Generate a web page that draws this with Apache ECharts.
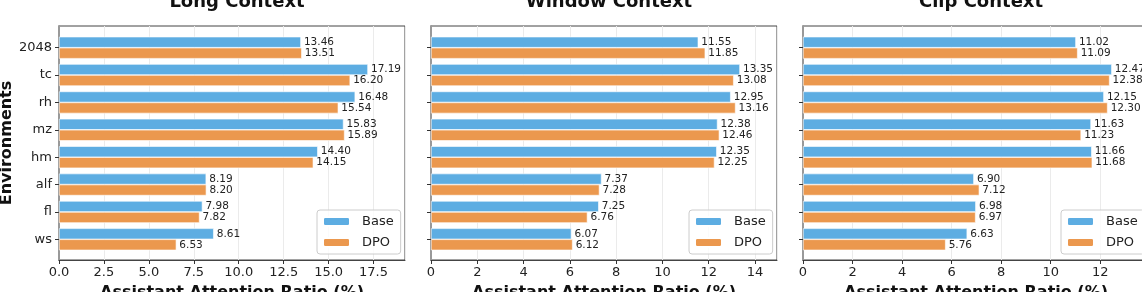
<!DOCTYPE html>
<html><head><meta charset="utf-8">
<script src="https://cdn.jsdelivr.net/npm/echarts@6/dist/echarts.min.js"></script>
<style>html,body{margin:0;padding:0;background:#fff;}#c{width:1142px;height:292px;}</style>
</head><body><div id="c"></div>
<script>
const categories = ['2048', 'tc', 'rh', 'mz', 'hm', 'alf', 'fl', 'ws'];
const panelTitles = ['Long Context', 'Window Context', 'Clip Context'];
const seriesNames = ['Base', 'DPO'];
const longBase   = [13.46, 17.19, 16.48, 15.83, 14.40, 8.19, 7.98, 8.61];
const longDpo    = [13.51, 16.20, 15.54, 15.89, 14.15, 8.20, 7.82, 6.53];
const windowBase = [11.55, 13.35, 12.95, 12.38, 12.35, 7.37, 7.25, 6.07];
const windowDpo  = [11.85, 13.08, 13.16, 12.46, 12.25, 7.28, 6.76, 6.12];
const clipBase   = [11.02, 12.47, 12.15, 11.63, 11.66, 6.90, 6.98, 6.63];
const clipDpo    = [11.09, 12.38, 12.30, 11.23, 11.68, 7.12, 6.97, 5.76];
const xMax = [19.25, 14.95, 13.97];
const xInterval = [2.5, 2, 2];
const xTickDecimals = [1, 0, 0];
const xName = 'Assistant Attention Ratio (%)';
const yName = 'Environments';

const panelData = [[longBase, longDpo], [windowBase, windowDpo], [clipBase, clipDpo]];
const colors = ['#5DADE2', '#EB984E'];
const FONT = 'DejaVu Sans';
const panelLeft = [59, 431, 803];
const panelW = 346;

const grid = [], xAxis = [], yAxis = [], series = [], title = [], legend = [];
panelData.forEach((pair, i) => {
  const L = panelLeft[i];
  grid.push({left: L, top: 26, width: panelW, height: 234, show: true, borderColor: '#444', borderWidth: 1,
    backgroundColor: '#fff', containLabel: false, outerBoundsMode: 'none'});
  grid.push({left: L, top: 34, width: panelW, height: 219, containLabel: false, outerBoundsMode: 'none'});
  xAxis.push({
    gridIndex: 2 * i, type: 'value', min: 0, max: xMax[i], interval: xInterval[i],
    axisLine: {show: true, lineStyle: {color: '#444', width: 1}},
    axisTick: {show: true, length: 4, lineStyle: {color: '#333'}},
    axisLabel: {show: true, showMaxLabel: false, margin: 6, fontFamily: FONT, fontSize: 13, color: '#222',
      formatter: v => v.toFixed(xTickDecimals[i])},
    splitLine: {show: true, lineStyle: {color: '#ebebeb', width: 1}},
    name: xName, nameLocation: 'middle', nameGap: 25,
    nameTextStyle: {fontFamily: FONT, fontSize: 16, fontWeight: 'bold', color: '#111', verticalAlign: 'top'}
  });
  xAxis.push({gridIndex: 2 * i + 1, type: 'value', min: 0, max: xMax[i], show: false});
  yAxis.push({
    gridIndex: 2 * i, type: 'value', min: 0, max: 1,
    axisLine: {show: true, lineStyle: {color: '#999', width: 2}},
    axisTick: {show: false}, axisLabel: {show: false}, splitLine: {show: false},
    name: i === 0 ? yName : '', nameLocation: 'middle', nameGap: 44,
    nameTextStyle: {fontFamily: FONT, fontSize: 16, fontWeight: 'bold', color: '#111'}
  });
  yAxis.push({
    gridIndex: 2 * i + 1, type: 'category', data: categories, inverse: true,
    axisLine: {show: false},
    axisTick: {show: true, alignWithLabel: true, length: 4, lineStyle: {color: '#333'}},
    axisLabel: {show: i === 0, margin: 7, fontFamily: FONT, fontSize: 13, color: '#222'},
    splitLine: {show: false}
  });
  pair.forEach((vals, k) => {
    series.push({
      type: 'bar', name: seriesNames[k], xAxisIndex: 2 * i + 1, yAxisIndex: 2 * i + 1,
      data: vals, barWidth: 11, barGap: '0%',
      itemStyle: {color: colors[k], borderColor: '#fff', borderWidth: 0.6},
      label: {show: true, position: 'right', distance: 3, fontFamily: FONT, fontSize: 10.5, color: '#222',
        formatter: p => p.value.toFixed(2)},
      animation: false
    });
  });
  title.push({text: panelTitles[i], left: L + panelW / 2, textAlign: 'center', top: -12,
    textStyle: {fontFamily: FONT, fontSize: 18, fontWeight: 'bold', color: '#111'}});
  legend.push({
    data: seriesNames, orient: 'vertical', left: L + 258, top: 210,
    itemWidth: 27, itemHeight: 9, itemGap: 6,
    padding: [4, 7, 4, 5], backgroundColor: 'rgba(255,255,255,0.8)', borderColor: '#ccc', borderWidth: 1, borderRadius: 3,
    textStyle: {fontFamily: FONT, fontSize: 13, color: '#222', lineHeight: 15, padding: [0, 0, 0, 7]},
    selectedMode: false
  });
});

const chart = echarts.init(document.getElementById('c'), null, {renderer: 'canvas'});
chart.setOption({animation: false, title, grid, xAxis, yAxis, series, legend});
</script></body></html>
